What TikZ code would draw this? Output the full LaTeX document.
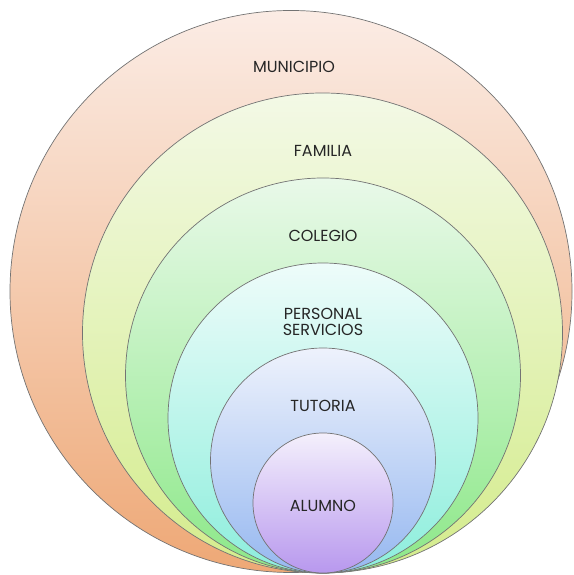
\documentclass[tikz,border=0pt]{standalone}
\usepackage{fontspec}
\setmainfont{Poppins}
\definecolor{munitop}{RGB}{251,236,229}
\definecolor{munibot}{RGB}{238,168,118}
\definecolor{famtop}{RGB}{243,249,230}
\definecolor{fambot}{RGB}{212,236,140}
\definecolor{coltop}{RGB}{233,249,233}
\definecolor{colbot}{RGB}{140,232,136}
\definecolor{pertop}{RGB}{238,252,250}
\definecolor{perbot}{RGB}{140,238,220}
\definecolor{tuttop}{RGB}{238,242,252}
\definecolor{tutbot}{RGB}{150,184,240}
\definecolor{alutop}{RGB}{244,240,252}
\definecolor{alubot}{RGB}{184,152,238}
\begin{document}
\begin{tikzpicture}[x=1pt,y=1pt,
	ring/.style={circle, draw=black!55, line width=0.7pt, inner sep=0pt},
	tag/.style={font=\fontsize{16}{16.5}\selectfont, text=black!85, align=center, inner sep=0pt}]
	\useasboundingbox (0,0) rectangle (573,575);
	\node[ring, minimum size=562pt, top color=munitop, bottom color=munibot] (municipio) at (291,283.5) {};
	\node[ring, minimum size=480pt, top color=famtop, bottom color=fambot] (familia) at (322.5,242) {};
	\node[ring, minimum size=395pt, top color=coltop, bottom color=colbot] (colegio) at (323,199.5) {};
	\node[ring, minimum size=310pt, top color=pertop, bottom color=perbot] (personal) at (323,157) {};
	\node[ring, minimum size=225pt, top color=tuttop, bottom color=tutbot] (tutoria) at (323,114.5) {};
	\node[ring, minimum size=140pt, top color=alutop, bottom color=alubot] (alumno) at (323,72) {};
	\node[tag] (tmunicipio) at (294,508) {MUNICIPIO};
	\node[tag] (tfamilia) at (323,424) {FAMILIA};
	\node[tag] (tcolegio) at (323,339) {COLEGIO};
	\node[tag] (tpersonal) at (323,253) {PERSONAL\\SERVICIOS};
	\node[tag] (ttutoria) at (323,169) {TUTORIA};
	\node[tag] (talumno) at (323,69) {ALUMNO};
\end{tikzpicture}
\end{document}
